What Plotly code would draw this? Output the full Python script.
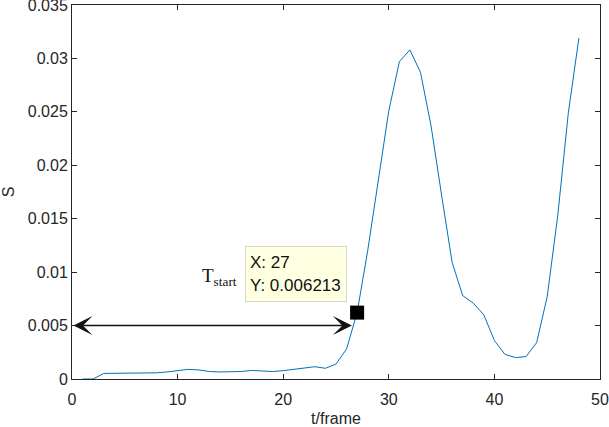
import plotly.graph_objects as go

# Data
frames = list(range(1, 49))
s_values = [
    0.0000, 0.0000, 0.00052, 0.00052, 0.00052, 0.00053, 0.00055, 0.00058,
    0.00066, 0.0008, 0.0009, 0.00085, 0.0007, 0.00066, 0.00066, 0.0007,
    0.0008, 0.00077, 0.0007, 0.00078, 0.00088, 0.0010, 0.00115, 0.0010,
    0.0014, 0.0028, 0.006213, 0.0120, 0.0186, 0.0251, 0.0297, 0.0308,
    0.0287, 0.0237, 0.0172, 0.0109, 0.0078, 0.0071, 0.0060, 0.0036,
    0.0023, 0.0020, 0.0021, 0.0034, 0.0077, 0.0153, 0.0249, 0.0319,
]
tip_x = 27
tip_y = 0.006213
arrow_y = 0.005
arrow_end_x = 26.5

x_ticks = [0, 10, 20, 30, 40, 50]
y_ticks = [0, 0.005, 0.01, 0.015, 0.02, 0.025, 0.03, 0.035]
y_tick_text = ["0", "0.005", "0.01", "0.015", "0.02", "0.025", "0.03", "0.035"]

AX = "#262626"
FONT = "Liberation Sans, Arial, sans-serif"

fig = go.Figure()
fig.add_trace(go.Scatter(
    x=frames, y=s_values, mode="lines",
    line=dict(color="#0072BD", width=1),
    hoverinfo="skip", showlegend=False,
))
fig.add_trace(go.Scatter(
    x=[tip_x], y=[tip_y], mode="markers",
    marker=dict(symbol="square", size=14, color="black"),
    hoverinfo="skip", showlegend=False,
))

# double-headed arrow
fig.add_annotation(
    x=arrow_end_x, y=arrow_y, ax=0, ay=arrow_y, xref="x", yref="y",
    axref="x", ayref="y", text="", showarrow=True,
    arrowhead=3, startarrowhead=3, arrowside="end+start",
    arrowsize=2.1, startarrowsize=2.1, arrowwidth=1.5, arrowcolor="#111111",
)

# data tip box
fig.add_annotation(
    x=(245 - 72) / 528, y=(379 - 246) / 374, xref="paper", yref="paper",
    xanchor="left", yanchor="top",
    text=f"X: {tip_x}<br>Y: {tip_y}", showarrow=False, align="left",
    font=dict(family=FONT, size=17, color="#111111"),
    bgcolor="#ffffe1", bordercolor="#d8d8c8", borderwidth=1, borderpad=4,
    width=92, height=46,
)

# T_start label
fig.add_annotation(
    x=(200 - 72) / 528, y=(379 - 277) / 374, xref="paper", yref="paper",
    xanchor="left", yanchor="middle",
    text="T<sub>start</sub>", showarrow=False,
    font=dict(family="Liberation Serif, Times New Roman, serif", size=19, color="#111111"),
)

fig.update_layout(
    width=609, height=427,
    margin=dict(l=72, r=9, t=5, b=48, autoexpand=False),
    paper_bgcolor="white", plot_bgcolor="white",
    font=dict(family=FONT, size=16, color=AX),
    showlegend=False,
)
fig.update_xaxes(
    range=[0, 50.0001], tickvals=x_ticks, ticks="inside", ticklen=5, tickcolor=AX,
    showline=True, linecolor=AX, linewidth=1, mirror="ticks", showgrid=False,
    zeroline=False, tickfont=dict(size=16, color=AX), automargin=False,
    ticklabeloverflow="allow", ticklabelstandoff=6,
    title=dict(text="t/frame", font=dict(size=16, color=AX), standoff=6),
)
fig.update_yaxes(
    range=[0, 0.0350001], tickvals=y_ticks, ticktext=y_tick_text, ticks="inside",
    ticklen=5, tickcolor=AX, showline=True, linecolor=AX, linewidth=1,
    mirror="ticks", showgrid=False, zeroline=False, automargin=False,
    ticklabeloverflow="allow",
    tickfont=dict(size=16, color=AX),
    title=dict(text="S", font=dict(size=16, color=AX), standoff=12),
)

fig.write_html(
    "out.html",
    config={"displayModeBar": False},
    post_script="document.body.style.margin='0';document.body.style.overflow='hidden';",
)
